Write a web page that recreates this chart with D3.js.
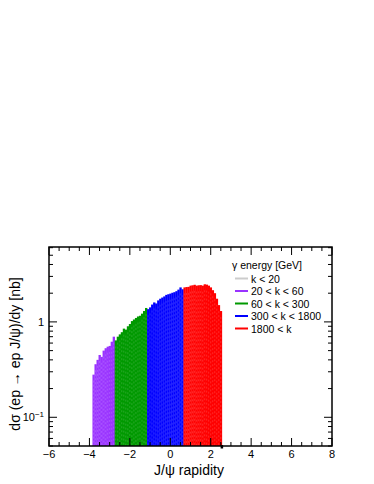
<!DOCTYPE html>
<html>
<head>
<meta charset="utf-8">
<script src="https://cdn.jsdelivr.net/npm/d3@7"></script>
<style>
  body { margin: 0; background: #fff; }
  text { font-family: "Liberation Sans", Arial, sans-serif; fill: #000; }
</style>
</head>
<body>
<svg id="chart" width="374" height="484"></svg>
<script>
// ---- data ----
const binStart = -3.85;
const binWidth = 0.1;
const purpleVals = [0.28, 0.36, 0.40, 0.45, 0.43, 0.50, 0.53, 0.55, 0.56, 0.62, 0.70];
const greenVals = [0.64, 0.70, 0.74, 0.78, 0.85, 0.83, 0.90, 0.95, 1.02, 1.06, 1.10, 1.14, 1.16, 1.22, 1.30, 1.40];
const blueVals = [1.36, 1.42, 1.52, 1.60, 1.56, 1.68, 1.75, 1.80, 1.85, 1.92, 1.95, 1.98, 2.02, 2.05, 2.10, 2.18, 2.30, 2.20];
const redVals = [2.30, 2.32, 2.33, 2.40, 2.42, 2.45, 2.40, 2.42, 2.43, 2.40, 2.48, 2.46, 2.40, 2.30, 2.15, 2.00, 1.75, 1.50, 1.30];
const xTicks = [-6, -4, -2, 0, 2, 4, 6, 8];
const legendTitle = "\u03b3 energy [GeV]";
const legendLabels = ["k < 20", "20 < k < 60", "60 < k < 300", "300 < k < 1800", "1800 < k"];
const legendColors = ["#cccccc", "#9933ff", "#009900", "#0000ff", "#ff0000"];

// ---- layout ----
const svg = d3.select("#chart");
const L = 49, R = 332, T = 247, B = 446;

const x = d3.scaleLinear().domain([-6, 8]).range([L, R]);
const y = d3.scaleLog().domain([0.05, 6.1]).range([B, T]);

// build bins
const series = [purpleVals, greenVals, blueVals, redVals];
const bins = [];
let idx = 0;
series.forEach((vals, s) => {
  vals.forEach(v => {
    bins.push({ x0: binStart + idx * binWidth, x1: binStart + (idx + 1) * binWidth, v, color: legendColors[s + 1] });
    idx++;
  });
});

const plot = svg.append("g");
plot.append("defs").append("clipPath").attr("id", "clip")
  .append("rect").attr("x", L).attr("y", T).attr("width", R - L).attr("height", B - T);

const barG = plot.append("g").attr("clip-path", "url(#clip)");
barG.selectAll("rect.bin")
  .data(bins)
  .join("rect")
  .attr("class", "bin")
  .attr("x", d => x(d.x0))
  .attr("width", d => x(d.x1) - x(d.x0) + 0.3)
  .attr("y", d => y(d.v))
  .attr("height", d => B - y(d.v))
  .attr("fill", d => d.color);

// light texture inside fills
barG.selectAll("line.tex")
  .data(bins)
  .join("line")
  .attr("class", "tex")
  .attr("x1", d => x((d.x0 + d.x1) / 2))
  .attr("x2", d => x((d.x0 + d.x1) / 2))
  .attr("y1", d => y(d.v) + 6)
  .attr("y2", B)
  .attr("stroke", "#fff")
  .attr("stroke-opacity", 0.2)
  .attr("stroke-width", 0.8)
  .attr("stroke-dasharray", "2,2");

// small black marker at bottom right end
svg.append("rect")
  .attr("x", x(binStart + idx * binWidth) - 1.2)
  .attr("y", B - 1)
  .attr("width", 2.5).attr("height", 3.5)
  .attr("fill", "#000");

// ---- ticks (ROOT style, inside, all four sides) ----
const tickG = svg.append("g").attr("stroke", "#000").attr("stroke-width", 1);
const xMinor = d3.range(-6, 8.001, 0.5);
xMinor.forEach(t => {
  const major = Math.abs(t % 2) < 1e-6;
  const len = major ? 8 : 4;
  tickG.append("line").attr("x1", x(t)).attr("x2", x(t)).attr("y1", B).attr("y2", B - len);
  tickG.append("line").attr("x1", x(t)).attr("x2", x(t)).attr("y1", T).attr("y2", T + len);
});

const yTickVals = [];
[0.01, 0.1, 1].forEach(dec => {
  for (let m = 1; m <= 9; m++) {
    const v = dec * m;
    if (v >= 0.05 && v <= 6.1) yTickVals.push({ v, major: m === 1 });
  }
});
yTickVals.forEach(t => {
  const len = t.major ? 8 : 4;
  tickG.append("line").attr("x1", L).attr("x2", L + len).attr("y1", y(t.v)).attr("y2", y(t.v));
  tickG.append("line").attr("x1", R).attr("x2", R - len).attr("y1", y(t.v)).attr("y2", y(t.v));
});

// frame
svg.append("rect")
  .attr("x", L).attr("y", T).attr("width", R - L).attr("height", B - T)
  .attr("fill", "none").attr("stroke", "#000").attr("stroke-width", 1.5);

// x tick labels
svg.append("g").selectAll("text")
  .data(xTicks)
  .join("text")
  .attr("x", d => x(d))
  .attr("y", B + 12)
  .attr("text-anchor", "middle")
  .attr("font-size", 11)
  .text(d => d < 0 ? "\u2212" + Math.abs(d) : d);

// y tick labels
svg.append("text")
  .attr("x", L - 5).attr("y", y(1) + 4)
  .attr("text-anchor", "end").attr("font-size", 11).text("1");
const lab = svg.append("text")
  .attr("x", L - 5).attr("y", y(0.1) + 4)
  .attr("text-anchor", "end").attr("font-size", 11);
lab.append("tspan").text("10");
lab.append("tspan").attr("dy", -4).attr("font-size", 8).text("\u22121");

// axis titles
svg.append("text")
  .attr("x", 189).attr("y", 475)
  .attr("text-anchor", "middle").attr("font-size", 14)
  .text("J/\u03c8 rapidity");
svg.append("text")
  .attr("transform", "translate(20,354) rotate(-90)")
  .attr("text-anchor", "middle").attr("font-size", 14)
  .text("d\u03c3 (ep \u2192 ep J/\u03c8)/dy [nb]");

// legend
const leg = svg.append("g");
leg.append("text").attr("x", 232).attr("y", 269).attr("font-size", 10.5).text(legendTitle);
legendLabels.forEach((lbl, i) => {
  const yy = 278.5 + i * 12.5;
  leg.append("line").attr("x1", 235).attr("x2", 248).attr("y1", yy).attr("y2", yy)
    .attr("stroke", legendColors[i]).attr("stroke-width", 2);
  leg.append("text").attr("x", 251).attr("y", yy + 4).attr("font-size", 10.5).text(lbl);
});
</script>
</body>
</html>
